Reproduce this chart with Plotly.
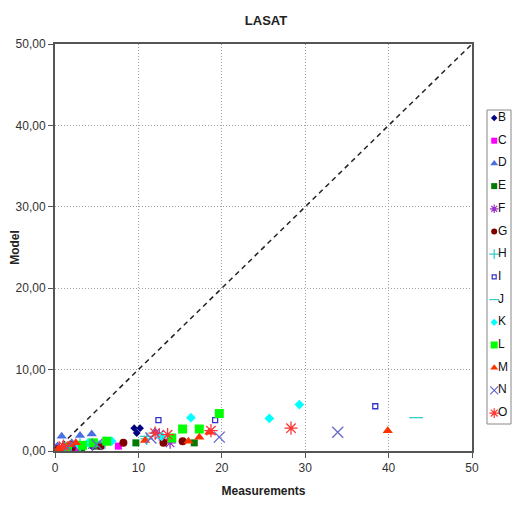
import plotly.graph_objects as go

series_names = ["B", "C", "D", "E", "F", "G", "H", "I", "J", "K", "L", "M", "N", "O"]

B_x = [0.2, 0.8, 1.5, 3.5, 4.5, 9.5, 10.2, 9.8]
B_y = [0.1, 0.3, 0.4, 0.7, 0.5, 2.8, 2.8, 2.2]
C_x = [0.1, 0.3, 0.8, 2.5, 7.6]
C_y = [0.1, 0.0, 0.2, 0.3, 0.6]
D_x = [0.3, 0.8, 1.2, 2.0, 3.0, 4.4, 12.0]
D_y = [0.6, 1.8, 0.4, 1.0, 1.9, 2.1, 2.4]
E_x = [0.5, 1.5, 3.2, 5.0, 9.7, 16.7]
E_y = [0.2, 0.4, 0.4, 0.6, 1.0, 1.0]
F_x = [0.5, 2.5, 4.5, 12.5, 13.8]
F_y = [0.3, 0.6, 0.8, 2.0, 1.0]
G_x = [0.4, 2.0, 5.5, 8.2, 13.0, 15.3]
G_y = [0.2, 0.4, 0.6, 1.0, 1.0, 1.2]
H_x = [1.0, 3.0, 6.0, 11.0]
H_y = [0.5, 0.8, 1.0, 1.5]
I_x = [2.0, 12.4, 19.2, 38.4]
I_y = [0.8, 3.8, 3.8, 5.5]
J_x = [5.0, 11.0, 13.0, 43.3]
J_y = [1.2, 1.8, 1.6, 4.1]
K_x = [3.0, 4.0, 6.8, 12.8, 16.3, 25.7, 29.3]
K_y = [0.6, 1.0, 1.2, 1.8, 4.1, 4.0, 5.7]
L_x = [1.5, 3.3, 4.6, 6.2, 14.0, 15.3, 17.3, 19.7]
L_y = [0.5, 0.7, 1.0, 1.2, 1.6, 2.7, 2.7, 4.6]
M_x = [0.3, 0.5, 1.0, 1.8, 2.5, 10.8, 16.0, 17.3, 18.5, 39.9]
M_y = [0.1, 0.3, 0.5, 0.8, 1.0, 1.3, 1.2, 1.7, 2.3, 2.5]
N_x = [1.5, 5.0, 11.5, 19.7, 33.9]
N_y = [0.5, 0.8, 1.6, 1.7, 2.3]
O_x = [1.0, 12.0, 13.5, 18.7, 28.3]
O_y = [0.6, 2.2, 2.0, 2.5, 2.8]

xs = [B_x, C_x, D_x, E_x, F_x, G_x, H_x, I_x, J_x, K_x, L_x, M_x, N_x, O_x]
ys = [B_y, C_y, D_y, E_y, F_y, G_y, H_y, I_y, J_y, K_y, L_y, M_y, N_y, O_y]

colors = ["#000080", "#FF00FF", "#4A6FE3", "#007A00", "#9933CC", "#800000", "#33CCCC",
          "#3333CC", "#33CCCC", "#00FFFF", "#00FF00", "#FF3300", "#6666CC", "#FF3333"]
symbols = ["diamond", "square", "triangle-up", "square", "asterisk-open", "circle", "cross-thin-open",
           "square-open", "line-ew-open", "diamond", "square", "triangle-up", "x-thin-open", "asterisk-open"]
sizes = [6, 7, 9, 7, 10, 8, 9, 5, 10, 7.5, 9, 9, 11, 11]
legend_sizes = [5, 6, 7, 6, 7, 6, 7, 4, 7, 5.5, 7, 7, 8, 8]

diag = [0, 50]
x_ticks = [0, 10, 20, 30, 40, 50]
y_ticks = [0, 10, 20, 30, 40, 50]
y_tick_labels = ["0,00", "10,00", "20,00", "30,00", "40,00", "50,00"]

# the page body adds an 8px margin on every side; keep the page from overflowing
OFF = 8
W, H = 520 - 2 * OFF, 519 - 2 * OFF
ML, MR, MT = 55 - OFF, 0, 44 - OFF
plot_bottom = 451 - OFF
MB = H - plot_bottom
pw = W - ML - MR
ph = H - MT - MB
plot_right = 472 - OFF
leg_left, leg_right, leg_top, leg_bottom = 487 - OFF, 511 - OFF, 110 - OFF, 424 - OFF
leg_first, leg_step = 118 - OFF, 22.7

main_dom = [0, (plot_right - ML) / pw]
leg_xdom = [(leg_left - ML) / pw, (leg_right - ML) / pw]
leg_ydom = [(plot_bottom - leg_bottom) / ph, (plot_bottom - leg_top) / ph]
top_units = (leg_first - leg_top) / leg_step
bot_units = (leg_bottom - leg_top) / leg_step - top_units

fig = go.Figure()
fig.add_trace(go.Scatter(x=diag, y=diag, mode="lines", showlegend=False,
                         line=dict(color="#222222", width=1.5, dash="5px,4px"), hoverinfo="skip"))
for name, x, y, c, s, sz in zip(series_names, xs, ys, colors, symbols, sizes):
    fig.add_trace(go.Scatter(
        x=x, y=y, mode="markers", name=name, showlegend=False,
        marker=dict(color=c, symbol=s, size=sz, line=dict(color=c, width=1.3 if "open" in s else 0)),
    ))

# legend drawn in its own small axes
idx = list(range(len(series_names)))
for i, (name, c, s, sz) in enumerate(zip(series_names, colors, symbols, legend_sizes)):
    fig.add_trace(go.Scatter(
        x=[0.3], y=[i], mode="markers", xaxis="x2", yaxis="y2", showlegend=False,
        cliponaxis=False,
        marker=dict(color=c, symbol=s, size=sz, line=dict(color=c, width=1.2 if "open" in s else 0)),
        hoverinfo="skip"))
fig.add_trace(go.Scatter(
    x=[0.46] * len(series_names), y=idx, mode="text", text=series_names, xaxis="x2", yaxis="y2",
    textposition="middle right", showlegend=False, hoverinfo="skip", cliponaxis=False,
    textfont=dict(size=12, color="#111111", family="Liberation Sans, Arial, sans-serif")))

fig.update_layout(
    width=W, height=H,
    margin=dict(l=ML, r=MR, t=MT, b=MB, autoexpand=False),
    paper_bgcolor="white", plot_bgcolor="white",
    font=dict(family="Liberation Sans, Arial, sans-serif", size=12, color="#333333"),
    title=dict(text="<b>LASAT</b>", x=(266 - OFF) / W, xref="container", y=1 - (20 - OFF) / H,
               yref="container", xanchor="center", yanchor="middle",
               font=dict(size=13, color="#222222")),
    xaxis=dict(domain=main_dom, range=[0, 50], tickvals=x_ticks, showgrid=True, gridcolor="#A0A0A0",
               griddash="1px,2px", gridwidth=1, zeroline=False, showline=True, linecolor="#555555",
               linewidth=2, mirror=True, ticks="outside", ticklen=5, tickcolor="#555555",
               automargin=False,
               title=dict(text="<b>Measurements</b>", font=dict(size=12, color="#222222"), standoff=12)),
    yaxis=dict(range=[0, 50], tickvals=y_ticks, ticktext=y_tick_labels, showgrid=True,
               gridcolor="#A0A0A0", griddash="1px,2px", gridwidth=1, zeroline=False, showline=True,
               linecolor="#555555", linewidth=2, mirror=True, ticks="outside", ticklen=5,
               tickcolor="#555555", automargin=False,
               title=dict(text="<b>Model</b>", font=dict(size=12, color="#222222"), standoff=8)),
    xaxis2=dict(domain=leg_xdom, range=[0, 1], visible=False, fixedrange=True),
    yaxis2=dict(domain=leg_ydom, range=[bot_units, -top_units], visible=False, fixedrange=True,
                anchor="x2"),
    shapes=[dict(type="rect", xref="x2 domain", yref="y2 domain", x0=0, x1=1, y0=0, y1=1,
                 line=dict(color="#888888", width=1), fillcolor="rgba(0,0,0,0)")],
)

fig.write_html("out.html")
